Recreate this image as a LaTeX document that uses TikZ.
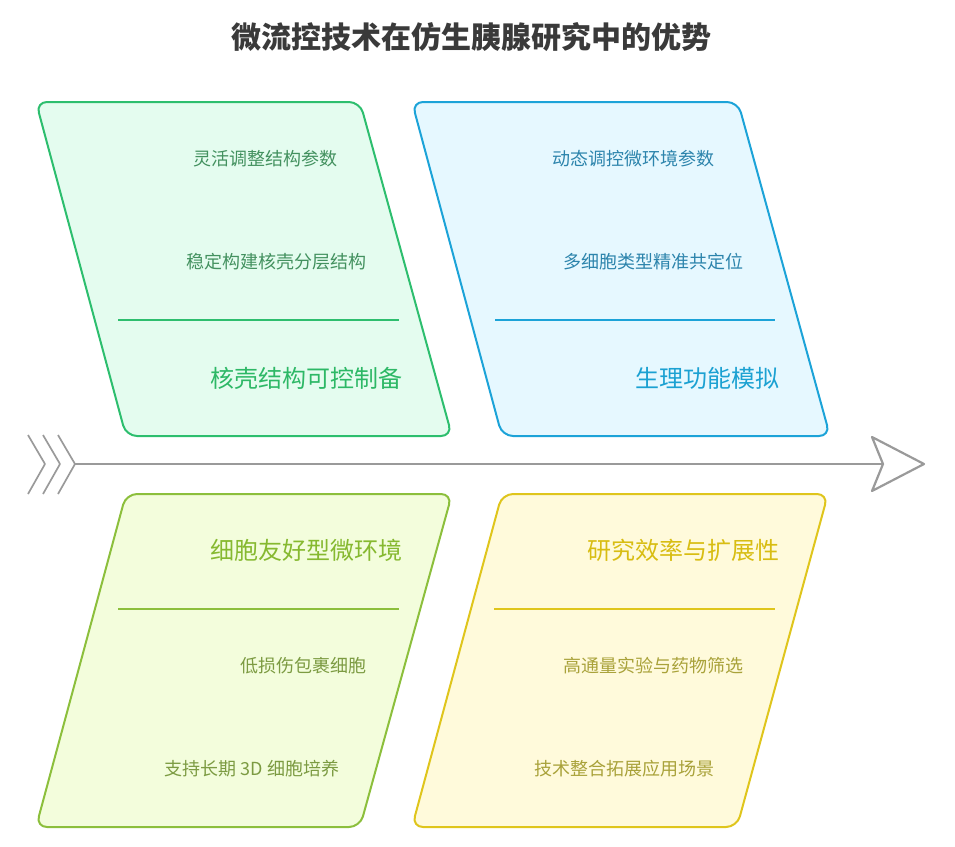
\documentclass[tikz,border=0pt]{standalone}
\usepackage{fontspec}
\setmainfont{Noto Sans CJK SC}
\usepackage{tikz}
\usetikzlibrary{positioning}

\definecolor{titlegray}{HTML}{3A3A3A}
\definecolor{spinegray}{HTML}{9A9A9A}
\definecolor{greenline}{HTML}{2DBE6E}
\definecolor{greenfill}{HTML}{E4FCEF}
\definecolor{greenhead}{HTML}{2DB866}
\definecolor{greenitem}{HTML}{43915F}
\definecolor{blueline}{HTML}{1CA3D8}
\definecolor{bluefill}{HTML}{E6F8FF}
\definecolor{bluehead}{HTML}{1BA1D2}
\definecolor{blueitem}{HTML}{2C84AC}
\definecolor{limeline}{HTML}{8CBF3C}
\definecolor{limefill}{HTML}{F3FDDC}
\definecolor{limehead}{HTML}{86B930}
\definecolor{limeitem}{HTML}{7C9B42}
\definecolor{yellowline}{HTML}{DFC51C}
\definecolor{yellowfill}{HTML}{FFFADB}
\definecolor{yellowhead}{HTML}{D8BD12}
\definecolor{yellowitem}{HTML}{A9A23A}

\begin{document}
\begin{tikzpicture}[x = 1pt, y = -1pt,
    every node/.style = { inner sep = 0pt, align = center },
    panel/.style = { line width = 2pt, rounded corners = 11pt },
    item/.style = { font = \fontsize{18}{21}\selectfont },
    head/.style = { font = \fontsize{24}{28}\selectfont },
    rule/.style = { line width = 2pt },
    spine/.style = { draw = spinegray, line width = 2.2pt, line join = round }]
  \useasboundingbox (0,0) rectangle (955,846);

  \node [font = \bfseries\fontsize{30}{34}\selectfont, text = titlegray] (title) at (475,37)
    { 微流控技术在仿生胰腺研究中的优势 };

  % fish bone
  \coordinate (tail) at (75,464);
  \coordinate (tip) at (883,464);
  \draw [spine] (tail) -- (tip);
  \draw [spine] (872,437) -- (924,464) -- (872,491) -- (tip) -- cycle;
  \foreach \dx in {0, 15, 30}
    \draw [spine, line width = 1.7pt] (28+\dx,435) -- (45+\dx,464) -- (28+\dx,494);

  % panels
  \draw [panel, draw = greenline, fill = greenfill] (36,102) -- (360,102) -- (452,436) -- (126,436) -- cycle;
  \draw [panel, draw = blueline, fill = bluefill] (412,102) -- (738,102) -- (830,436) -- (502,436) -- cycle;
  \draw [panel, draw = limeline, fill = limefill] (126,494) -- (452,494) -- (360,827) -- (36,827) -- cycle;
  \draw [panel, draw = yellowline, fill = yellowfill] (502,494) -- (828,494) -- (737,827) -- (412,827) -- cycle;

  \draw [rule, greenline] (118,320) -- (399,320);
  \draw [rule, blueline] (495,320) -- (775,320);
  \draw [rule, limeline] (118,609) -- (399,609);
  \draw [rule, yellowline] (494,609) -- (775,609);

  \node [item, text = greenitem] (flex) at (268,159) { 灵活调整结构参数 };
  \node [item, text = greenitem] (stable) at (279,262) { 稳定构建核壳分层结构 };
  \node [head, text = greenhead] (core) at (309,378) { 核壳结构可控制备 };

  \node [item, text = blueitem] (dyn) at (636,159) { 动态调控微环境参数 };
  \node [item, text = blueitem] (multi) at (656,262) { 多细胞类型精准共定位 };
  \node [head, text = bluehead] (physio) at (710,378) { 生理功能模拟 };

  \node [head, text = limehead] (friendly) at (309,550) { 细胞友好型微环境 };
  \node [item, text = limeitem] (lowdmg) at (306,666) { 低损伤包裹细胞 };
  \node [item, text = limeitem] (culture) at (254,769) { 支持长期 3D 细胞培养 };

  \node [head, text = yellowhead] (effic) at (686,550) { 研究效率与扩展性 };
  \node [item, text = yellowitem] (screen) at (656,666) { 高通量实验与药物筛选 };
  \node [item, text = yellowitem] (integ) at (627,769) { 技术整合拓展应用场景 };
\end{tikzpicture}
\end{document}
